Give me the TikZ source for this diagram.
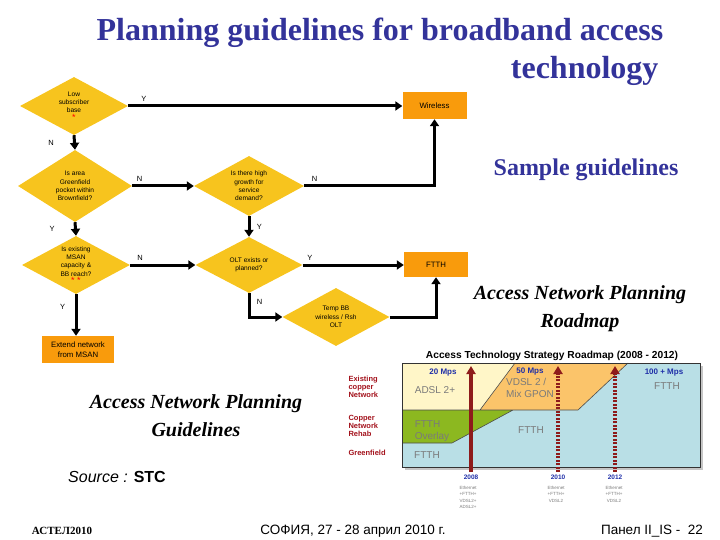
\documentclass[tikz,border=0pt]{standalone}
\usepackage{fontspec}
\setmainfont{Liberation Serif}
\setsansfont{Liberation Sans}
\usetikzlibrary{shapes.geometric, positioning, arrows.meta}

\definecolor{titleblue}{HTML}{33339A}
\definecolor{dgold}{HTML}{F7C41E}
\definecolor{borange}{HTML}{F99B0C}
\definecolor{darkred}{HTML}{8E1B1B}
\definecolor{labred}{HTML}{A3121C}
\definecolor{cyellow}{HTML}{FFF6C8}
\definecolor{corange}{HTML}{FBC46A}
\definecolor{cgreen}{HTML}{8CB820}
\definecolor{cblue}{HTML}{B9DFE6}
\definecolor{cgrey}{HTML}{7A7A7A}
\definecolor{yearblue}{HTML}{1F2FA8}

\tikzset{
	decision/.style={diamond, fill=dgold, inner sep=0pt, aspect=1.85, align=center,
		font=\sffamily\fontsize{6.6}{8.4}\selectfont},
	outcome/.style={rectangle, fill=borange, inner sep=0pt, align=center,
		font=\sffamily\fontsize{7.8}{9.5}\selectfont},
	flow/.style={line width=3pt, -{Triangle[length=7pt,width=9pt]}},
	lbl/.style={font=\sffamily\fontsize{7.5}{8}\selectfont},
	ttl/.style={font=\bfseries\fontsize{32}{34}\selectfont, text=titleblue},
	heading/.style={font=\bfseries\itshape\fontsize{20}{28}\selectfont, align=center},
	rowlabel/.style={text=labred, font=\sffamily\bfseries\fontsize{7.5}{8.3}\selectfont, align=left, anchor=west},
	cell/.style={text=cgrey, font=\sffamily\fontsize{10}{11.5}\selectfont, align=left},
	speed/.style={text=yearblue, font=\sffamily\bfseries\fontsize{8}{9}\selectfont},
	year/.style={text=yearblue, font=\sffamily\bfseries\fontsize{6.5}{7}\selectfont},
	tiny/.style={text=cgrey, font=\sffamily\fontsize{4.5}{6.2}\selectfont, align=center},
	foot/.style={font=\sffamily\fontsize{13.5}{15}\selectfont},
}

\begin{document}
\begin{tikzpicture}[x=1pt, y=-1pt]
	\useasboundingbox (0,0) rectangle (720,540);

	% title
	\node[ttl] (title) at (380,33) {Planning guidelines for broadband access};
	\node[ttl, anchor=east] (title2) at (662,71) {technology};

	% decision flow
	\node[decision, minimum width=108pt, minimum height=58pt] (low) at (74,106)
		{Low\\subscriber\\base\\[-1pt]{\color{red}\fontsize{9}{8}\selectfont *}};
	\node[decision, minimum width=114pt, minimum height=72pt] (green) at (75,186)
		{Is area\\Greenfield\\pocket within\\Brownfield?};
	\node[decision, minimum width=110pt, minimum height=60pt] (growth) at (249,186)
		{Is there high\\growth for\\service\\demand?};
	\node[decision, minimum width=108pt, minimum height=58pt] (msan) at (76,265)
		{Is existing\\MSAN\\capacity \&\\BB reach?\\[-1pt]{\color{red}\fontsize{9}{8}\selectfont * *}};
	\node[decision, minimum width=107pt, minimum height=56pt] (olt) at (249,265)
		{OLT exists or\\planned?};
	\node[decision, minimum width=107pt, minimum height=58pt] (temp) at (336,317)
		{Temp BB\\wireless / Rsh\\OLT};

	\node[outcome, minimum width=64pt, minimum height=27pt] (wireless) at (434.5,105.5) {Wireless};
	\node[outcome, minimum width=64pt, minimum height=25pt] (ftth) at (436,264.5) {FTTH};
	\node[outcome, minimum width=72pt, minimum height=27pt] (extend) at (78,349.5)
		{Extend network\\from MSAN};

	\draw[flow] (low.east) -- node[lbl, pos=0.03, above right] {Y} (wireless.west |- low.east);
	\draw[flow] (low.south) -- node[lbl, midway, left=16pt] {N} (green.north);
	\draw[flow] (green.east) -- node[lbl, pos=0.12, above] {N} (growth.west);
	\draw[flow] (growth.east) -- node[lbl, pos=0.08, above] {N} (growth.east -| wireless.south) -- (wireless.south);
	\draw[flow] (growth.south) -- node[lbl, midway, right=3pt] {Y} (olt.north);
	\draw[flow] (green.south) -- node[lbl, midway, left=16pt] {Y} (msan.north);
	\draw[flow] (msan.east) -- node[lbl, pos=0.15, above] {N} (olt.west);
	\draw[flow] (olt.east) -- node[lbl, pos=0.07, above] {Y} (ftth.west |- olt.east);
	\draw[flow] (olt.south) -- node[lbl, pos=0.35, right=3pt] {N} (olt.south |- temp.west) -- (temp.west);
	\draw[flow] (temp.east) -- (temp.east -| ftth.south) -- (ftth.south);
	\draw[flow] (msan.south) -- node[lbl, pos=0.3, left=6pt] {Y} (msan.south |- extend.north);

	% side texts
	\node[text=titleblue, font=\bfseries\fontsize{24}{26}\selectfont] (sample) at (586,170) {Sample guidelines};
	\node[heading] (roadmaphead) at (580,309) {Access Network Planning\\Roadmap};
	\node[heading] (guidehead) at (196,416) {Access Network Planning\\Guidelines};
	\node[font=\sffamily\fontsize{16}{18}\selectfont] (source) at (117,477) {\textit{Source :} \textbf{STC}};

	% roadmap chart
	\node[font=\sffamily\bfseries\fontsize{10.2}{11}\selectfont] (charttitle) at (552,356)
		{Access Technology Strategy Roadmap (2008 - 2012)};
	\fill[gray!45] (405,366) rectangle (703,470);
	\fill[cblue] (402,363) rectangle (700,467);
	\fill[cyellow] (402,363) -- (515,363) -- (480,410) -- (402,410) -- cycle;
	\fill[corange] (515,363) -- (628,363) -- (578,410) -- (480,410) -- cycle;
	\fill[cgreen] (402,410) -- (513,410) -- (452,443) -- (402,443) -- cycle;
	\draw[black!70, line width=0.6pt] (515,363) -- (480,410) (628,363) -- (578,410)
		(402,410) -- (578,410) (513,410) -- (452,443) -- (402,443);
	\draw[black!80, line width=0.7pt] (402,363) rectangle (700,467);

	\node[speed] (s20) at (443,373) {20 Mps};
	\node[speed] (s50) at (530,372) {50 Mps};
	\node[speed] (s100) at (664,373) {100 + Mps};
	\node[cell] (adsl) at (435,390) {ADSL 2+};
	\node[cell] (vdsl) at (530,388) {VDSL 2 /\\Mix GPON};
	\node[cell] (ftthA) at (667,386) {FTTH};
	\node[cell] (overlay) at (432,431) {FTTH\\Overlay};
	\node[cell] (ftthB) at (531,430) {FTTH};
	\node[cell] (ftthC) at (427,455) {FTTH};

	\node[rowlabel] (existing) at (345,387) {Existing\\copper\\Network};
	\node[rowlabel] (rehab) at (345,426) {Copper\\Network\\Rehab};
	\node[rowlabel] (greenfield) at (345,453) {Greenfield};

	\coordinate (m08) at (471,472);
	\coordinate (m10) at (558,472);
	\coordinate (m12) at (615,472);
	\draw[darkred, line width=3.2pt, -{Triangle[length=8pt,width=9pt]}] (m08) -- ++(0,-106);
	\draw[darkred, line width=3.2pt, dash pattern=on 2pt off 1.5pt, -{Triangle[length=8pt,width=9pt]}] (m10) -- ++(0,-106);
	\draw[darkred, line width=3.2pt, dash pattern=on 2pt off 1.5pt, -{Triangle[length=8pt,width=9pt]}] (m12) -- ++(0,-106);

	\node[year] (y08) at (471,477) {2008};
	\node[year] (y10) at (558,477) {2010};
	\node[year] (y12) at (615,477) {2012};
	\node[tiny, anchor=north] at (468,483) {Ethernet\\+FTTH+\\VDSL2+\\ADSL2+};
	\node[tiny, anchor=north] at (556,483) {Ethernet\\+FTTH+\\VDSL2};
	\node[tiny, anchor=north] at (614,483) {Ethernet\\+FTTH+\\VDSL2};

	% footer
	\node[font=\bfseries\fontsize{11}{12}\selectfont] (astel) at (62,531) {АСТЕЛ2010};
	\node[foot] (sofia) at (353,531) {СОФИЯ, 27 - 28 април 2010 г.};
	\node[foot] (panel) at (652,531) {Панел II\_IS -\ \ 22};

\end{tikzpicture}
\end{document}
